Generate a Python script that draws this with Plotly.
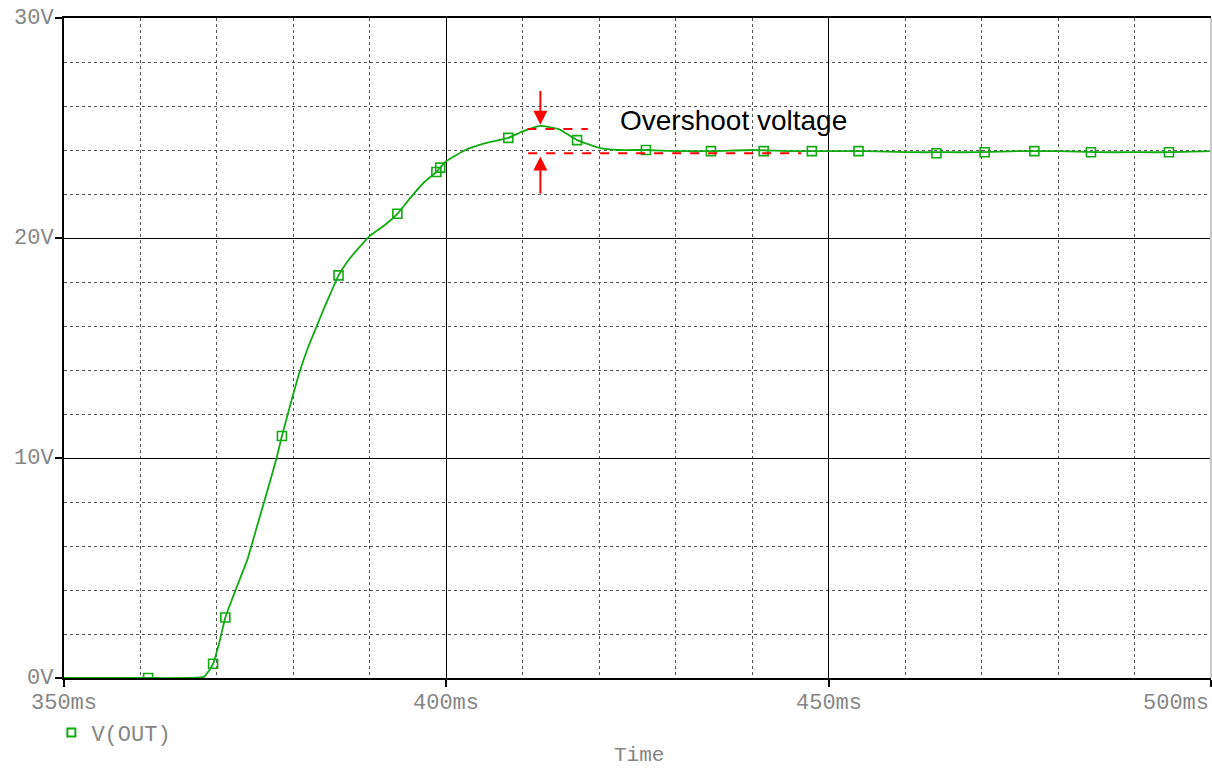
import plotly.graph_objects as go

# V(OUT) transient waveform (time in ms, voltage in V)
t_ms = [350.0, 360.5, 368.3, 368.9, 369.5, 370.3, 371.1, 372.0, 373.0, 374.0,
        375.0, 376.0, 377.0, 377.8, 378.5, 379.5, 380.8, 382.0, 383.0, 384.0,
        385.0, 385.9, 387.0, 388.3, 390.0, 392.0, 393.6, 395.0, 397.0, 398.7,
        399.2, 400.0, 402.5, 405.0, 408.1, 410.0, 412.3, 414.7, 417.1, 420.0,
        422.6, 426.1, 430.0, 435.0, 440.0, 445.0, 450.0, 455.0, 460.0, 465.0,
        470.0, 475.0, 480.0, 485.0, 490.0, 495.0, 500.0]
v_out = [0.0, 0.0, 0.05, 0.3, 0.65, 1.6, 2.75, 3.6, 4.5, 5.4,
         6.6, 7.8, 9.0, 10.0, 11.0, 12.3, 13.9, 15.1, 15.95, 16.8,
         17.6, 18.3, 18.9, 19.45, 20.1, 20.6, 21.1, 21.7, 22.5, 23.0,
         23.2, 23.5, 24.0, 24.3, 24.55, 24.85, 25.1, 24.95, 24.45, 24.1,
         24.0, 24.0, 23.95, 23.95, 24.0, 23.95, 23.95, 23.95, 23.9, 23.9,
         23.9, 23.95, 23.95, 23.9, 23.9, 23.9, 23.95]

# sample markers along the trace
mark_t = [361.0, 369.5, 371.1, 378.5, 385.9, 393.6, 398.7, 399.2, 408.1, 417.1,
          426.1, 434.6, 441.5, 447.8, 453.9, 464.1, 470.4, 476.9, 484.3, 494.5]
mark_v = [0.0, 0.65, 2.75, 11.0, 18.3, 21.1, 23.0, 23.2, 24.55, 24.45,
          24.0, 23.95, 23.95, 23.95, 23.95, 23.85, 23.9, 23.95, 23.9, 23.9]

x_ticks = [350, 400, 450, 500]
x_tick_text = ["350ms", "400ms", "450ms", "500ms"]
y_ticks = [0, 10, 20, 30]
y_tick_text = ["0V", "10V", "20V", "30V"]

# overshoot markers
peak_t = 412.3
peak_v = 24.95
final_v = 23.85

GREEN = "#11aa11"
GRAY = "#858585"
MONO = "Liberation Mono, Courier New, monospace"

fig = go.Figure()
fig.add_trace(go.Scatter(x=t_ms, y=v_out, mode="lines",
                         line=dict(color=GREEN, width=1.8, shape="spline", smoothing=0.4),
                         showlegend=False, hoverinfo="skip"))
fig.add_trace(go.Scatter(x=mark_t, y=mark_v, mode="markers", cliponaxis=True,
                         marker=dict(symbol="square-open", size=9, color=GREEN,
                                     line=dict(width=1.6, color=GREEN)),
                         showlegend=False))
fig.add_trace(go.Scatter(x=[None], y=[None], mode="markers", name="V(OUT)",
                         marker=dict(symbol="square-open", size=8, color=GREEN,
                                     line=dict(width=2, color=GREEN))))

# dashed reference levels
fig.add_shape(type="line", x0=410.6, x1=418.5, y0=peak_v, y1=peak_v,
              line=dict(color="red", width=2, dash="dash"))
fig.add_shape(type="line", x0=410.7, x1=446.4, y0=final_v, y1=final_v,
              line=dict(color="red", width=2, dash="dash"))
# right frame edge
fig.add_shape(type="line", xref="paper", yref="paper", x0=1, x1=1, y0=0, y1=1,
              line=dict(color="#c8c8c8", width=2))

# arrows
fig.add_annotation(x=peak_t, y=25.15, ax=peak_t, ay=26.75, xref="x", yref="y",
                   axref="x", ayref="y", text="", showarrow=True, arrowhead=2,
                   arrowsize=1.4, arrowwidth=2, arrowcolor="red")
fig.add_annotation(x=peak_t, y=23.7, ax=peak_t, ay=21.95, xref="x", yref="y",
                   axref="x", ayref="y", text="", showarrow=True, arrowhead=2,
                   arrowsize=1.4, arrowwidth=2, arrowcolor="red")
fig.add_annotation(x=422.5, y=25.35, text="Overshoot voltage", showarrow=False,
                   xanchor="left", yanchor="middle",
                   font=dict(family="Liberation Sans, Arial", size=28, color="black"))

# tick labels
for xv, lab in zip(x_ticks, x_tick_text):
    fig.add_annotation(x=xv, y=0, xref="x", yref="paper", yshift=-25, text=lab,
                       showarrow=False, yanchor="middle",
                       xanchor="right" if xv == x_ticks[-1] else "center",
                       font=dict(family=MONO, size=22, color=GRAY))
for yv, lab in zip(y_ticks, y_tick_text):
    fig.add_annotation(x=0, y=yv, xref="paper", yref="y", xshift=-8, text=lab,
                       showarrow=False, xanchor="right", yanchor="middle",
                       font=dict(family=MONO, size=22, color=GRAY))
fig.add_annotation(x=0.5017, y=0, xref="paper", yref="paper", yshift=-77,
                   text="Time", showarrow=False, yanchor="middle",
                   font=dict(family=MONO, size=21, color=GRAY))

fig.update_xaxes(range=[350, 500], showticklabels=False, ticks="outside",
                 tickvals=x_ticks, ticklen=7, tickcolor="black", tickwidth=1.5,
                 showline=True, linecolor="black", linewidth=2, mirror=True,
                 showgrid=True, gridcolor="black", gridwidth=1.3,
                 minor=dict(dtick=10, showgrid=True, gridcolor="#555555",
                            griddash="dot", gridwidth=1),
                 zeroline=False)
fig.update_yaxes(range=[0, 30], showticklabels=False, ticks="outside",
                 tickvals=y_ticks, ticklen=7, tickcolor="black", tickwidth=1.5,
                 showline=True, linecolor="black", linewidth=2,
                 showgrid=True, gridcolor="black", gridwidth=1.3,
                 minor=dict(dtick=2, showgrid=True, gridcolor="#555555",
                            griddash="dot", gridwidth=1),
                 zeroline=False)

fig.update_layout(width=1212, height=769, plot_bgcolor="white", paper_bgcolor="white",
                  margin=dict(l=64, r=1, t=18, b=91),
                  showlegend=True,
                  legend=dict(x=-0.011, y=-0.051, xanchor="left", yanchor="top",
                              bgcolor="rgba(0,0,0,0)",
                              font=dict(family=MONO, size=22, color=GRAY)))

fig.write_html("out.html")
